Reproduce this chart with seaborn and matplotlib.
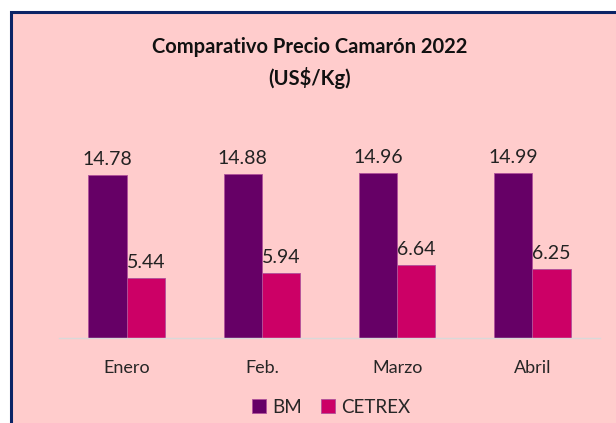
import pandas as pd
import seaborn as sns
import matplotlib.pyplot as plt
from matplotlib.patches import Rectangle

# Data
meses = ["Enero", "Feb.", "Marzo", "Abril"]
bm = [14.78, 14.88, 14.96, 14.99]
cetrex = [5.44, 5.94, 6.64, 6.25]

df = pd.DataFrame({
    "Mes": meses * 2,
    "Serie": ["BM"] * 4 + ["CETREX"] * 4,
    "Precio": bm + cetrex,
})

sns.set_style("white")
plt.rcParams["font.family"] = ["Lato", "DejaVu Sans"]

pink = "#FFCCCC"
fig = plt.figure(figsize=(6.16, 4.23), dpi=100, facecolor="white")
# chart area with dark blue border (cut at right/bottom)
fig.patches.append(Rectangle((11 / 616, -0.02), 1.0, 1 - 12 / 423 + 0.02,
                             transform=fig.transFigure, facecolor=pink,
                             edgecolor="#0B2466", linewidth=2.2, zorder=-5))

ax = fig.add_axes([59 / 616, 85 / 423, 541 / 616, 198 / 423])
ax.set_zorder(2)
ax.set_facecolor("none")

sns.barplot(data=df, x="Mes", y="Precio", hue="Serie", order=meses,
            palette={"BM": "#660066", "CETREX": "#CC0066"}, saturation=1,
            width=0.565, edgecolor="#B0509A", linewidth=0.6, ax=ax)

for cont in ax.containers:
    ax.bar_label(cont, fmt="%.2f", padding=5, fontsize=14, color="#222222")

ax.set_ylim(0, 18)
ax.set_xlim(-0.5, 3.5)
ax.set_yticks([])
ax.set_xlabel("")
ax.set_ylabel("")
for s in ["top", "right", "left"]:
    ax.spines[s].set_visible(False)
ax.spines["bottom"].set_color("#D9D9D9")
ax.spines["bottom"].set_linewidth(1)
ax.tick_params(axis="x", length=0, pad=16, labelsize=13, labelcolor="#262626")

ax.legend_.remove()
handles, labels = ax.get_legend_handles_labels()
fig.legend(handles, labels, loc="center", bbox_to_anchor=(331 / 616, 1 - 407 / 423),
           ncol=2, frameon=False, fontsize=13.5, handlelength=0.75, handleheight=0.75,
           handletextpad=0.35, columnspacing=1.0, labelcolor="#262626")

fig.text(310 / 616, 1 - 47 / 423, "Comparativo Precio Camarón 2022",
         ha="center", va="center", fontsize=14.5, fontweight="bold", color="#111111")
fig.text(310 / 616, 1 - 78 / 423, "(US$/Kg)",
         ha="center", va="center", fontsize=14.5, fontweight="bold", color="#111111")

fig.savefig("out.png", dpi=100, facecolor="white")
